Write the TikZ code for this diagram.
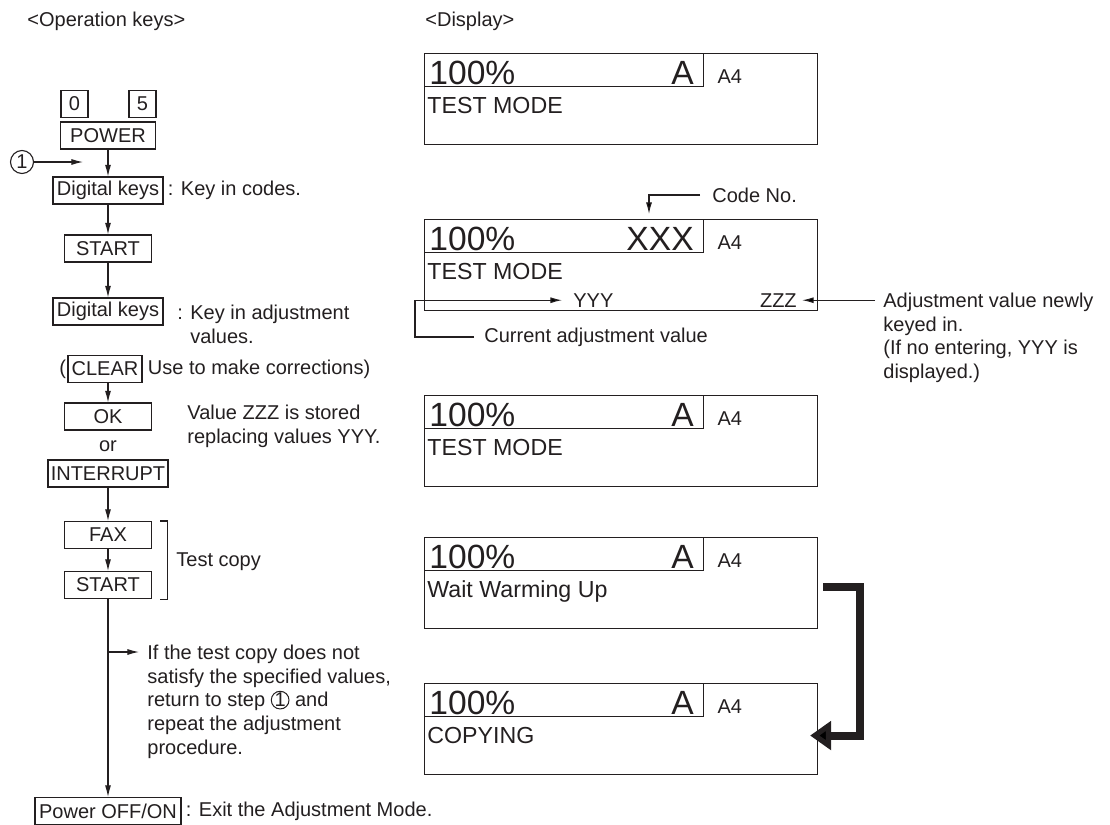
\documentclass[tikz,border=0pt]{standalone}
\usepackage{fontspec}
\setmainfont{Liberation Sans}
\usetikzlibrary{arrows.meta,calc,positioning}

\definecolor{ink}{RGB}{35,31,32}
\newcommand{\bodyfont}{\fontsize{10}{11.9}\selectfont}
\newcommand{\msgfont}{\fontsize{11.6}{13}\selectfont}
\newcommand{\lcdfont}{\fontsize{16.8}{18}\selectfont}
\newcommand{\stepmark}{\tikz[baseline=(m.base)]\node[draw=ink, circle, line width=0.5pt, inner sep=0pt, minimum size=8pt, font=\bodyfont] (m) {1};}

\begin{document}
\begin{tikzpicture}[
    x=0.5pt,
    y=-0.5pt,
    every node/.style={text=ink},
    key/.style={draw=ink, line width=0.55pt, inner sep=0pt, minimum height=13.5pt, font=\bodyfont},
    note/.style={font=\bodyfont, inner sep=0pt, anchor=west},
    para/.style={font=\bodyfont, inner sep=0pt, anchor=north west, align=left},
    flow/.style={draw=ink, line width=0.55pt, -{Latex[length=5.8pt, width=3pt]}},
    lcd/.style={draw=ink, line width=0.55pt, inner sep=0pt, minimum width=196.5pt, minimum height=45.5pt},
    lcdtop/.style={draw=ink, line width=0.55pt, inner sep=0pt, minimum width=139.5pt, minimum height=16.5pt},
    big/.style={font=\lcdfont, inner sep=0pt},
    jump/.style={draw=ink, line width=4pt, line join=miter, -{Triangle[length=10.5pt, width=14pt]}}
]

\useasboundingbox (0,0) rectangle (1110,825);

% -------------------------------------------------------------------------
% Column position
% -------------------------------------------------------------------------
\def\col{108}

% -------------------------------------------------------------------------
% Headings
% -------------------------------------------------------------------------
\node[ note ] (keyshead) at (27,21) {<Operation keys>};
\node[ note ] (disphead) at (425,21) {<Display>};

% -------------------------------------------------------------------------
% Operation keys
% -------------------------------------------------------------------------
\node[ key, minimum width=13.5pt ] (kzero) at (74.5,104) {0};
\node[ key, minimum width=13.5pt ] (kfive) at (142.5,104) {5};
\node[ key, minimum width=47.5pt ] (power) at (\col,135.5) {POWER};

\node[ key, minimum width=55pt ] (digitsA) at (\col,190.5) {Digital keys};
\node[ key, minimum width=43.5pt ] (startA) at (\col,248.5) {START};
\node[ key, minimum width=55pt ] (digitsB) at (\col,311.5) {Digital keys};
\node[ key, minimum width=37pt ] (clear) at (105,369) {CLEAR};
\node[ key, minimum width=43.5pt ] (ok) at (\col,416.5) {OK};
\node[ note, anchor=center ] (or) at (\col,446) {or};
\node[ key, minimum width=60pt ] (interrupt) at (\col,473.5) {INTERRUPT};
\node[ key, minimum width=43.5pt ] (fax) at (\col,535) {FAX};
\node[ key, minimum width=43.5pt ] (startB) at (\col,585) {START};
\node[ key, minimum width=73pt ] (poweroff) at (\col,811) {Power OFF/ON};

% step 1 marker
\node[ circle, draw=ink, line width=0.55pt, inner sep=0pt, minimum size=11.5pt, font=\bodyfont ] (stepone) at (22,162) {1};
\coordinate (entry) at (83,162);

% -------------------------------------------------------------------------
% Flow arrows
% -------------------------------------------------------------------------
\draw[ flow ] (stepone.east) -- (entry);
\draw[ flow ] (power.south) -- (digitsA.north);
\draw[ flow ] (digitsA.south) -- (startA.north);
\draw[ flow ] (startA.south) -- (digitsB.north);
\draw[ flow ] (clear.south -| ok.north) -- (ok.north);
\draw[ flow ] (interrupt.south) -- (fax.north);
\draw[ flow ] (fax.south) -- (startB.north);
\draw[ flow ] (startB.south) -- (poweroff.north);

% branch back to step 1
\coordinate (branch) at (startB.south |- 0,652);
\coordinate (retry) at (139,652);
\draw[ flow ] (branch) -- (retry);

% bracket round the test copy keys
\draw[ ink, line width=0.55pt ]
    ($(fax.north east)+(8,0)$) -- ++(7,0) |- ($(startB.south east)+(8,0)$);

% -------------------------------------------------------------------------
% Notes beside the keys
% -------------------------------------------------------------------------
\node[ note ] (codesnote) at ($(digitsA.east)+(4,0)$) {: Key in codes.};
\node[ para ] (adjnote) at (177,304.5) {: Key in adjustment\\\phantom{: }values.};
\node[ note, anchor=east ] (paren) at ($(clear.west)+(-1,0)$) {(};
\node[ note ] (clearnote) at ($(clear.east)+(5,0)$) {Use to make corrections)};
\node[ para ] (storenote) at (187,405) {Value ZZZ is stored\\replacing values YYY.};
\node[ note ] (testcopy) at (176,562) {Test copy};
\node[ para ] (retrynote) at (147,644.5) {If the test copy does not\\satisfy the specified values,\\return to step \stepmark{} and\\repeat the adjustment\\procedure.};
\node[ note ] (exitnote) at ($(poweroff.east)+(4,0)$) {: Exit the Adjustment Mode.};

% -------------------------------------------------------------------------
% Displays
% -------------------------------------------------------------------------
\foreach \n/\ytop/\sign/\msg in {1/53/A/TEST MODE, 2/219/XXX/TEST MODE, 3/395/A/TEST MODE, 4/537/A/Wait Warming Up, 5/683/A/COPYING}{
    \node[ lcd, anchor=north west ] (lcd\n) at (424,\ytop) {};
    \node[ lcdtop, anchor=north west ] (lcdtop\n) at (lcd\n.north west) {};
    \node[ big, anchor=base west ] (ratio\n) at ($(lcdtop\n.south west)+(5,-3)$) {100\%};
    \node[ big, anchor=base east ] (sign\n) at ($(lcdtop\n.south east)+(-10,-3)$) {\sign};
    \node[ note, anchor=base west ] (paper\n) at ($(lcdtop\n.south east)+(13,-4)$) {A4};
    \node[ note, font=\msgfont, anchor=base west ] (msg\n) at ($(lcd\n.north west)+(3,60)$) {\msg};
}

% values on the second display
\node[ note, anchor=base west ] (yyy) at ($(lcd2.south west)+(149,-4)$) {YYY};
\node[ note, anchor=base east ] (zzz) at ($(lcd2.south east)+(-21,-4)$) {ZZZ};

% -------------------------------------------------------------------------
% Callouts on the second display
% -------------------------------------------------------------------------
\node[ note ] (codeno) at (712,195) {Code No.};
\draw[ flow ] ($(codeno.west)+(-12,0)$) -| ($(lcd2.north west)+(225,-5)$);

\node[ note ] (curnote) at (484,337) {Current adjustment value};
\coordinate (curcorner) at (415,337);
\draw[ flow ] ($(curnote.west)+(-10,0)$) -- (curcorner) |- ($(yyy.west)+(-11,0)$);

\node[ para ] (newnote) at (883,292.5) {Adjustment value newly\\keyed in.\\(If no entering, YYY is\\displayed.)};
\draw[ flow ] ($(newnote.west |- zzz.east)+(-8,0)$) -- ($(zzz.east)+(5,0)$);

% -------------------------------------------------------------------------
% Warm-up to copying
% -------------------------------------------------------------------------
\draw[ jump ] ($(lcd4.east)+(5,3.5)$) -- ++(37,0) |- ($(lcd5.east)+(-8,6.5)$);

\end{tikzpicture}
\end{document}
